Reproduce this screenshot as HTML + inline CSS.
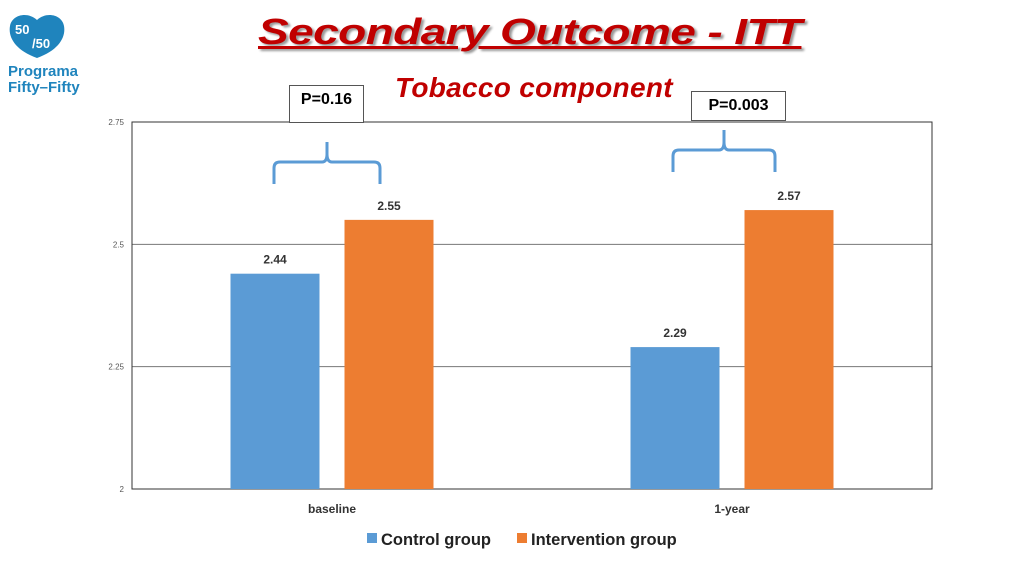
<!DOCTYPE html>
<html><head><meta charset="utf-8"><style>
body{margin:0;width:1024px;height:576px;background:#fff;overflow:hidden;font-family:"Liberation Sans",sans-serif;position:relative}
.abs{position:absolute}
</style></head><body>
<div class="abs" style="left:7px;top:12px;width:80px;height:85px">
 <svg width="60" height="48" style="position:absolute;left:0;top:0">
  <path d="M30 46 C8 38 1 25 3 14 C5 3 20 -1 30 8 C40 -1 55 3 57 14 C59 25 52 38 30 46Z" fill="#1f84bd"/>
  <text x="8" y="22" fill="#fff" font-size="13" font-weight="bold" font-family="Liberation Sans">50</text>
  <text x="25" y="36" fill="#fff" font-size="13" font-weight="bold" font-family="Liberation Sans">/50</text>
 </svg>
 <div style="position:absolute;left:1px;top:52px;color:#1f84bd;font-weight:bold;font-size:15px;line-height:16px">Programa<br>Fifty–Fifty</div>
</div>
<div class="abs" style="left:258px;top:11px;font-size:36px;font-weight:900;font-style:italic;color:#c00000;text-decoration:underline;text-decoration-thickness:3px;text-shadow:2px 2px 2px #999;transform:scaleX(1.28);transform-origin:left top;letter-spacing:-0.5px">Secondary Outcome - ITT</div>
<div class="abs" style="left:395px;top:72px;font-size:28px;font-weight:bold;font-style:italic;color:#c00000;letter-spacing:0.3px">Tobacco component</div>
<div class="abs" style="left:289px;top:85px;width:75px;height:38px;border:1px solid #555;background:#fff;font-weight:900;font-size:16px;text-align:center;line-height:28px;box-sizing:border-box;z-index:2">P=0.16</div>
<div class="abs" style="left:691px;top:91px;width:95px;height:30px;border:1px solid #555;background:#fff;font-weight:900;font-size:16px;text-align:center;line-height:28px;box-sizing:border-box;z-index:2">P=0.003</div>
<svg id="chart" class="abs" style="left:0;top:0" width="1024" height="576"></svg>
<script>
const categories=["baseline","1-year"];
const controlValues=[2.44,2.29];
const interventionValues=[2.55,2.57];
const yTicks=[2,2.25,2.5,2.75];
const yTickLabels=["2","2.25","2.5","2.75"];
const seriesNames=["Control group","Intervention group"];
const colors=["#5b9bd5","#ed7d31"];
const NS="http://www.w3.org/2000/svg";
const svg=document.getElementById('chart');
const L=132,R=932,T=122,B=489,ymin=2,ymax=2.75;
const y=v=>B-(v-ymin)/(ymax-ymin)*(B-T);
const cw=(R-L)/categories.length;
const cx=i=>L+cw*(i+0.5);
const braceTops=[162,150];
function mk(tag,a){const e=document.createElementNS(NS,tag);for(const k in a)e.setAttribute(k,a[k]);svg.appendChild(e);return e;}
yTicks.forEach((t,i)=>{
 const g=mk('line',{x1:L,x2:R,y1:y(t),y2:y(t),stroke:'#777','stroke-width':1});
 
 
 const tx=mk('text',{x:124,y:y(t)+3,'font-size':8,fill:'#555','text-anchor':'end','font-family':'Liberation Sans'});
 tx.textContent=yTickLabels[i];
 
 
});
const fr=mk('rect',{x:L,y:T,width:R-L,height:B-T,fill:'none',stroke:'#333','stroke-width':1});


const bw=89,gap=25;
[controlValues,interventionValues].forEach((vals,s)=>{
 vals.forEach((v,i)=>{
  const x=cx(i)-gap/2-bw+s*(bw+gap);
  const r=mk('rect',{x:x,y:y(v),width:bw,height:B-y(v),fill:colors[s]});
  
  
  const t=mk('text',{x:x+bw/2,y:y(v)-10,'font-size':12,'font-weight':'bold',fill:'#333','text-anchor':'middle','font-family':'Liberation Sans'});
  t.textContent=v.toFixed(2);
  
  
 });
});
categories.forEach((c,i)=>{
 const t=mk('text',{x:cx(i),y:513,'font-size':12,'font-weight':'bold',fill:'#333','text-anchor':'middle','font-family':'Liberation Sans'});
 t.textContent=c;
 
 
 const top=braceTops[i];
 const xl=cx(i)-58-i*1, xr=cx(i)+48-i*5, xm=(xl+xr)/2;
 const p=mk('path',{d:`M${xl} ${top+22} L${xl} ${top+6} Q${xl} ${top} ${xl+6} ${top} L${xm-5} ${top} Q${xm} ${top} ${xm} ${top-8} L${xm} ${top-20} M${xm} ${top-8} Q${xm} ${top} ${xm+5} ${top} L${xr-6} ${top} Q${xr} ${top} ${xr} ${top+6} L${xr} ${top+22}`,fill:'none',stroke:'#5b9bd5','stroke-width':3});
 
 
});
seriesNames.forEach((n,s)=>{
 const lx=[367,517][s];
 const r=mk('rect',{x:lx,y:533,width:10,height:10,fill:colors[s]});
 
 
 const t=mk('text',{x:lx+14,y:545,'font-size':16.5,'font-weight':'bold',fill:'#222','font-family':'Liberation Sans'});
 t.textContent=n;
 
 
});
</script>
</body></html>
